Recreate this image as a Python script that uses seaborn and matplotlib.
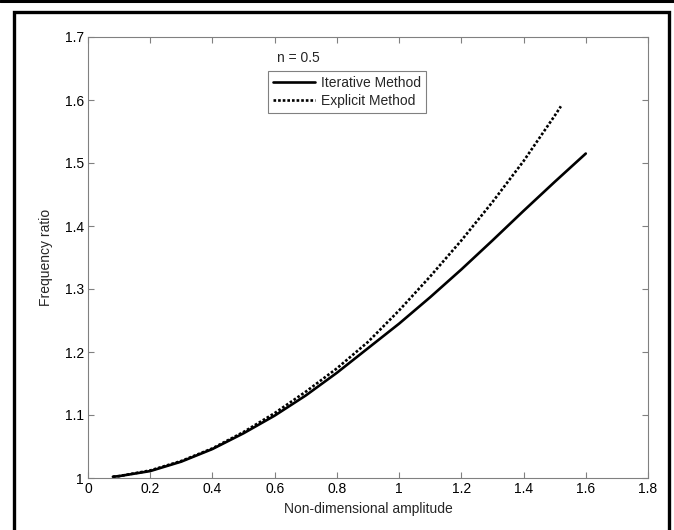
import matplotlib
matplotlib.use("Agg")
import matplotlib.pyplot as plt
import seaborn as sns
import pandas as pd
from matplotlib.lines import Line2D

sns.set_style("white")
plt.rcParams['font.family'] = ['Liberation Sans', 'DejaVu Sans']

iter_x = [0.08, 0.1, 0.2, 0.3, 0.4, 0.5, 0.6, 0.7, 0.8, 0.9, 1.0, 1.1, 1.2, 1.3, 1.4, 1.5, 1.6]
iter_y = [1.002, 1.003, 1.011, 1.026, 1.046, 1.071, 1.099, 1.131, 1.167, 1.206, 1.245, 1.287, 1.331, 1.377, 1.424, 1.470, 1.515]
expl_x = [0.08, 0.1, 0.2, 0.3, 0.4, 0.5, 0.6, 0.7, 0.8, 0.9, 1.0, 1.1, 1.2, 1.3, 1.4, 1.5, 1.52]
expl_y = [1.002, 1.003, 1.012, 1.027, 1.047, 1.073, 1.103, 1.137, 1.174, 1.216, 1.266, 1.320, 1.377, 1.438, 1.503, 1.575, 1.590]
labels = ["Iterative Method", "Explicit Method"]

df = pd.concat([
    pd.DataFrame({"x": iter_x, "y": iter_y, "method": labels[0]}),
    pd.DataFrame({"x": expl_x, "y": expl_y, "method": labels[1]}),
])

FS = 10
fig = plt.figure(figsize=(6.74, 5.30), dpi=100)
ax = fig.add_axes([88/674, 1-478/530, (648-88)/674, (478-37)/530])

sns.lineplot(data=df, x="x", y="y", hue="method", style="method",
             palette={labels[0]: "black", labels[1]: "black"},
             dashes={labels[0]: "", labels[1]: (1, 0.75)},
             linewidth=1.9, ax=ax, legend=False, sort=False)

ax.set_xlim(0, 1.8)
ax.set_ylim(1, 1.7)
ax.set_xticks([0, 0.2, 0.4, 0.6, 0.8, 1.0, 1.2, 1.4, 1.6, 1.8])
ax.set_xticklabels(["0", "0.2", "0.4", "0.6", "0.8", "1", "1.2", "1.4", "1.6", "1.8"])
ax.set_yticks([1, 1.1, 1.2, 1.3, 1.4, 1.5, 1.6, 1.7])
ax.set_yticklabels(["1", "1.1", "1.2", "1.3", "1.4", "1.5", "1.6", "1.7"])
ax.tick_params(direction="in", length=4, width=0.8, color="#808080",
               labelsize=FS, labelcolor="black", top=True, right=True,
               bottom=True, left=True, pad=3)
for s in ax.spines.values():
    s.set_color("#808080")
    s.set_linewidth(0.8)

ax.set_xlabel("Non-dimensional amplitude", fontsize=FS, labelpad=4)
ax.set_ylabel("Frequency ratio", fontsize=FS, labelpad=8)

handles = [Line2D([], [], color="black", lw=1.9, ls="-"),
           Line2D([], [], color="black", lw=1.9, ls=(0, (1, 0.75)))]
leg = ax.legend(handles, labels, loc="upper left",
                bbox_to_anchor=((268-88)/560, (478-71)/441),
                frameon=True, fancybox=False, fontsize=FS, handlelength=3.0,
                borderpad=0.35, labelspacing=0.3, handletextpad=0.45, borderaxespad=0)
leg.get_frame().set_edgecolor("#606060")
leg.get_frame().set_linewidth(0.8)

ax.text((277-88)/560, (478-62)/441, "n = 0.5", transform=ax.transAxes, fontsize=FS,
        ha="left", va="baseline")

# figure border lines
fig.add_artist(Line2D([0, 1], [1-1/530, 1-1/530], transform=fig.transFigure, color="black", lw=2.2))
fig.add_artist(Line2D([13.5/674, 13.5/674, 668.5/674, 668.5/674],
                      [0, 1-11.5/530, 1-11.5/530, 0], transform=fig.transFigure,
                      color="black", lw=2.4, solid_joinstyle="miter"))

fig.savefig("out.png", dpi=100)
